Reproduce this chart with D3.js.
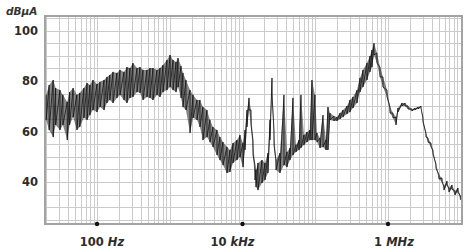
<!DOCTYPE html>
<html><head><meta charset="utf-8">
<script src="https://cdn.jsdelivr.net/npm/d3@7"></script>
<style>html,body{margin:0;padding:0;background:#fff;}svg{display:block;}</style>
</head><body>
<svg id="c" width="466" height="251"></svg>
<script>
// ---- data ----
const freqHz = [20,22,25,27,31,34,39,42,47,53,58,66,73,80,88,100,110,125,137,150,166,188,207,235,258,284,312,355,390,429,486,535,588,667,734,807,916,1010,1110,1220,1300,1430,1520,1670,1900,2090,2370,2600,2860,3250,3570,3930,4460,4900,5390,6120,6730,7400,8390,9230,10160,10830,11530,12280,13090,13940,14850,15330,16330,18530,20380,22400,23870,25430,27090,28860,32750,37170,40870,44940,49410,54330,59740,63640,69970,76950,84600,90130,99210,105700,116200,127800,140500,149700,159400,181000,199000,219000,240600,273000,300200,330000,374800,412000,453000,514000,565000,602000,642000,705000,776000,853000,969000,1066000,1171000,1288000,1372000,1557000,1712000,1883000,2137000,2349000,2583000,2840000,3026000,3327000,3545000,3898000,4152000,4566000,5020000,5520000,5880000,6466000,6888000,7574000,8328000,9157000,9900000];
const peakDb = [74.5,78.4,80.4,77.2,76.4,74.5,71.7,75.6,77.2,74.5,75.3,77.2,79.2,78.4,80.4,78.8,79.6,80.4,81.6,82.4,83.6,83.2,84.4,83.6,85.5,85.1,87.1,85.1,85.5,84.4,84.4,85.1,85.1,84.4,85.1,86.3,88.3,90.3,88.3,87.5,89.1,85.9,83.2,80.4,76.4,74.5,72.5,72.5,69.7,68.5,64.6,61.8,60.6,57.8,55.8,53.9,52.7,55.4,56.6,58.6,55.4,60.6,68.5,73.3,68.5,56.6,46.7,44.8,47.5,48.7,47.5,51.5,64.6,81.2,60.6,48.7,51.5,74.5,51.9,53.5,73.3,54.7,56.6,74.5,58.6,59.8,60.6,80.4,74.5,59.4,57.4,66.5,56.6,69.7,67.3,66.1,65.7,67.3,68.5,70.1,72.5,73.7,76.4,81.2,84.4,87.1,89.9,92.3,95.0,91.1,85.5,81.6,76.4,69.7,67.3,65.7,69.3,71.3,71.3,70.1,68.9,69.3,69.7,70.1,65.4,59.4,57.4,55.4,52.7,47.1,42.8,41.6,38.4,40.4,37.6,38.8,36.4,37.6,34.5];
const floorDb = [64.6,60.6,57.8,62.6,60.6,62.6,56.6,62.6,65.7,60.6,61.8,65.4,64.6,66.5,68.5,67.7,69.7,68.5,71.3,72.5,71.3,73.3,74.5,72.5,71.3,73.3,73.7,75.6,75.3,72.5,73.7,73.3,72.5,74.5,73.7,75.6,76.4,77.6,76.4,75.6,77.6,73.3,69.7,68.5,59.4,65.4,64.6,61.8,56.6,57.8,55.8,53.9,50.7,48.7,46.7,43.6,44.0,47.5,48.7,49.9,45.9,52.7,61.8,68.5,62.6,50.7,40.8,38.0,36.8,39.6,40.8,43.6,56.6,74.5,54.7,44.8,43.6,46.7,45.9,48.7,50.7,51.9,52.7,53.5,54.7,55.8,56.6,56.6,56.6,55.8,53.5,53.9,52.7,52.7,64.6,64.2,64.2,65.0,65.7,66.9,67.7,69.3,71.3,75.6,77.6,80.4,83.6,85.5,90.3,87.1,81.6,77.6,73.7,67.3,65.4,62.6,67.7,70.1,70.1,68.9,68.1,68.5,68.9,69.3,63.8,57.8,55.8,53.9,51.1,45.5,41.2,40.0,36.8,38.8,36.0,37.2,34.9,36.0,32.9];
const yTickValues = [40, 60, 80, 100];
const xTickValues = [100, 10000, 1000000];
const xTickNumbers = ["100", "10", "1"];
const xTickUnits = ["Hz", "kHz", "MHz"];
const yUnit = "dBμA";

// ---- layout ----
const L = 45, R = 462, T = 16, B = 224;
const svg = d3.select("#c");
const x = d3.scaleLog().domain([100, 1e6]).range([97, 388]);
const y = d3.scaleLinear().domain([40, 100]).range([182, 30.5]);
const font = "'DejaVu Sans', Verdana, sans-serif";

// grid
const g = svg.append("g");
const vLines = [];
for (let dec = 10; dec <= 1e7; dec *= 10)
  for (let m = 1; m <= 9; m++) {
    const px = x(m * dec);
    if (px > L + 1 && px < R - 1) vLines.push(px);
  }
g.selectAll("line.v").data(vLines).join("line")
  .attr("x1", d => Math.round(d) + 0.5).attr("x2", d => Math.round(d) + 0.5)
  .attr("y1", T).attr("y2", B).attr("stroke", "#cbcbcb").attr("stroke-width", 1);
const hVals = d3.range(25, 106, 5);
g.selectAll("line.h").data(hVals).join("line")
  .attr("x1", L).attr("x2", R)
  .attr("y1", d => Math.round(y(d)) + 0.5).attr("y2", d => Math.round(y(d)) + 0.5)
  .attr("stroke", "#cbcbcb").attr("stroke-width", 1);

// frame
svg.append("rect").attr("x", L).attr("y", T).attr("width", R - L).attr("height", B - T)
  .attr("fill", "none").attr("stroke", "#a3a3a3").attr("stroke-width", 2);

// trace
svg.append("clipPath").attr("id", "pc").append("rect")
  .attr("x", L).attr("y", T).attr("width", R - L).attr("height", B - T);
const data = freqHz.map((f, i) => ({ f, hi: peakDb[i], lo: floorDb[i] }));
const area = d3.area().x(d => x(d.f)).y0(d => y(d.lo)).y1(d => y(d.hi));
svg.append("path").attr("clip-path", "url(#pc)").attr("d", area(data))
  .attr("fill", "#222").attr("fill-opacity", 0.55);
const zz = [];
data.forEach(d => { zz.push([x(d.f), y(d.hi)]); zz.push([x(d.f), y(d.lo)]); });
svg.append("path").attr("clip-path", "url(#pc)").attr("d", d3.line()(zz))
  .attr("fill", "none").attr("stroke", "#111").attr("stroke-width", 0.8)
  .attr("stroke-linejoin", "round");

// y labels
svg.selectAll("text.yl").data(yTickValues).join("text")
  .attr("x", 38).attr("y", d => y(d) + 4).attr("text-anchor", "end")
  .attr("font-family", font).attr("font-size", 11.5).attr("font-weight", "bold")
  .attr("fill", "#2b2b2b").text(d => d);
svg.append("text").attr("x", 6).attr("y", 15).attr("font-family", font)
  .attr("font-size", 10.5).attr("font-style", "italic").attr("font-weight", "bold")
  .attr("fill", "#333").text(yUnit);

// x ticks: dots and labels
svg.selectAll("circle.xt").data(xTickValues).join("circle")
  .attr("cx", d => x(d)).attr("cy", B).attr("r", 2.2).attr("fill", "#111");
const dxs = [5, -10, 6];
const xl = svg.selectAll("text.xl").data(xTickValues).join("text")
  .attr("x", (d, i) => x(d) + dxs[i]).attr("y", 246).attr("text-anchor", "middle")
  .attr("font-family", font).attr("font-size", 11.5).attr("font-weight", "bold").attr("fill", "#2b2b2b");
xl.append("tspan").text((d, i) => xTickNumbers[i] + " ");
xl.append("tspan").attr("font-style", "italic").text((d, i) => xTickUnits[i]);
</script>
</body></html>
